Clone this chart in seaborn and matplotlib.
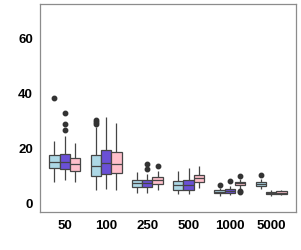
import pandas as pd
import numpy as np
import matplotlib
matplotlib.use("Agg")
import matplotlib.pyplot as plt
import seaborn as sns

# =============================
# 0) values (box stats per size / group)
# =============================
SIZES = ["50", "100", "250", "500", "1000", "5000"]
GROUPS = ["A", "B", "C"]
COLORS = ["#ADD8E6", "#6A50D6", "#FFC0CB"]

# lower whisker, Q1, median, Q3, upper whisker  (one row per size)
STATS_A = [
    [7.7, 12.7, 14.9, 17.5, 22.6],
    [4.7, 9.9, 13.2, 17.3, 27.4],
    [3.5, 5.8, 7.1, 8.1, 11.1],
    [3.0, 4.8, 6.3, 7.9, 11.7],
    [2.6, 3.5, 3.9, 4.5, 5.3],
    [5.1, 6.1, 6.9, 7.7, 8.7],
]
STATS_B = [
    [8.1, 12.3, 14.8, 17.7, 24.4],
    [5.1, 10.3, 14.4, 19.2, 31.1],
    [3.6, 5.8, 7.1, 8.2, 10.3],
    [3.3, 4.8, 6.6, 8.3, 12.6],
    [2.9, 3.4, 4.3, 4.9, 6.0],
    [2.4, 3.2, 3.5, 3.9, 4.8],
]
STATS_C = [
    [7.6, 11.6, 14.0, 16.1, 21.8],
    [4.8, 10.9, 14.0, 18.6, 29.1],
    [4.8, 6.9, 8.1, 9.3, 11.5],
    [5.4, 7.4, 9.0, 10.2, 13.5],
    [5.0, 6.4, 7.1, 7.6, 8.8],
    [2.7, 3.3, 3.7, 4.1, 4.7],
]
OUTLIERS_A = [[38.0], [28.6, 29.3, 30.1], [], [], [6.4], [10.2]]
OUTLIERS_B = [[26.6, 28.7, 32.5], [], [12.1, 14.2], [], [7.9], []]
OUTLIERS_C = [[], [], [13.3], [], [9.6, 4.4, 4.0], []]


# =============================
# 1) build long table so seaborn reproduces the quartiles
# =============================
def sample_from_stats(stats, outliers, rep=20):
    lo, q1, med, q3, hi = stats
    return [lo] + [q1] * rep + [med] * rep + [q3] * rep + [hi] + list(outliers)


rows = []
for grp, stats, outs in zip(GROUPS, [STATS_A, STATS_B, STATS_C],
                            [OUTLIERS_A, OUTLIERS_B, OUTLIERS_C]):
    for size, st, o in zip(SIZES, stats, outs):
        for v in sample_from_stats(st, o):
            rows.append({"size": size, "group": grp, "value": v})
df = pd.DataFrame(rows)

# =============================
# 2) plot
# =============================
sns.set_style("white")
plt.rcParams["font.family"] = ["Liberation Sans", "DejaVu Sans"]

fig = plt.figure(figsize=(3.01, 2.51), dpi=100)
ax = fig.add_axes([0.133, 0.151, 0.85, 0.831])

sns.boxplot(
    data=df, x="size", y="value", hue="group",
    order=SIZES, hue_order=GROUPS, palette=COLORS,
    width=0.75, gap=0, linewidth=0.9, linecolor="#454545",
    showcaps=False, saturation=1, legend=False, ax=ax,
    flierprops=dict(marker="o", markersize=3.2, markerfacecolor="#333333",
                    markeredgecolor="#333333"),
)

ax.set_xlim(-0.6, 5.6)
ax.set_ylim(-3.4, 72.4)
ax.set_yticks([0, 20, 40, 60])
ax.set_xlabel("")
ax.set_ylabel("")
for s in ax.spines.values():
    s.set_color("#8c8c8c")
    s.set_linewidth(0.9)
ax.tick_params(axis="both", length=3, width=0.8, color="#8c8c8c",
               labelsize=9.5, labelcolor="black", pad=2)
for lab in ax.get_xticklabels() + ax.get_yticklabels():
    lab.set_fontweight("bold")

fig.savefig("out.png", dpi=100)
